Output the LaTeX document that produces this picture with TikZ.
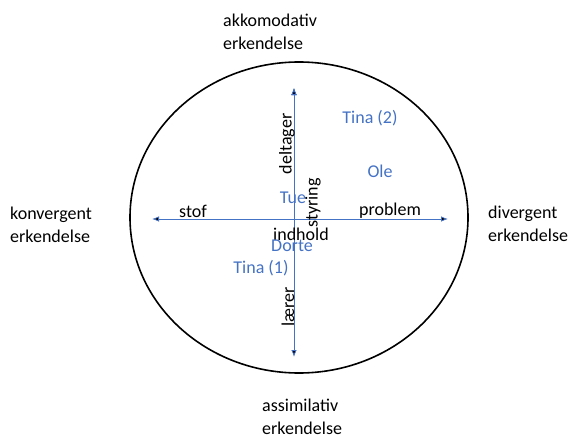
\documentclass[tikz,border=0pt]{standalone}
\usepackage{fontspec}
\setmainfont{Carlito}
\usetikzlibrary{arrows.meta}
\definecolor{offblue}{HTML}{4472C4}

\begin{document}
\begin{tikzpicture}[x=1pt,y=-1pt,
		every node/.style={font=\fontsize{18}{23}\selectfont, inner sep=0pt},
		pole/.style={anchor=west, align=left},
		person/.style={text=offblue},
		>={Latex[length=7pt,width=5.5pt]}]
		\useasboundingbox (0,0) rectangle (573,436);
		\draw[line width=1.6pt] (299,217.5) ellipse [x radius=169, y radius=155.5];
		% axes
		\coordinate (w) at (152,219);
		\coordinate (e) at (448,219);
		\coordinate (n) at (294,88);
		\coordinate (s) at (294,357);
		\path[<->, draw=offblue, line width=0.8pt]
		(w) edge (e)
		(n) edge (s);
		% outer labels
		\node[pole] (akk) at (223,32) {akkomodativ\\erkendelse};
		\node[pole] (konv) at (10,225) {konvergent\\erkendelse};
		\node[pole] (div) at (488,224) {divergent\\erkendelse};
		\node[pole] (ass) at (262,417) {assimilativ\\erkendelse};
		% axis labels
		\node (stof) at (193,211) {stof};
		\node (prob) at (390,211) {problem};
		\node[rotate=90] (delt) at (287,144) {deltager};
		\node[rotate=90] (styr) at (313,203) {styring};
		\node (indh) at (301,234) {indhold};
		\node[rotate=90] (laer) at (288,307) {lærer};
		% persons
		\node[person] (tina2) at (370,118) {Tina (2)};
		\node[person] (ole) at (380,171) {Ole};
		\node[person] (tue) at (293,198) {Tue};
		\node[person] (dorte) at (292,246) {Dorte};
		\node[person] (tina1) at (261,268) {Tina (1)};
\end{tikzpicture}
\end{document}
